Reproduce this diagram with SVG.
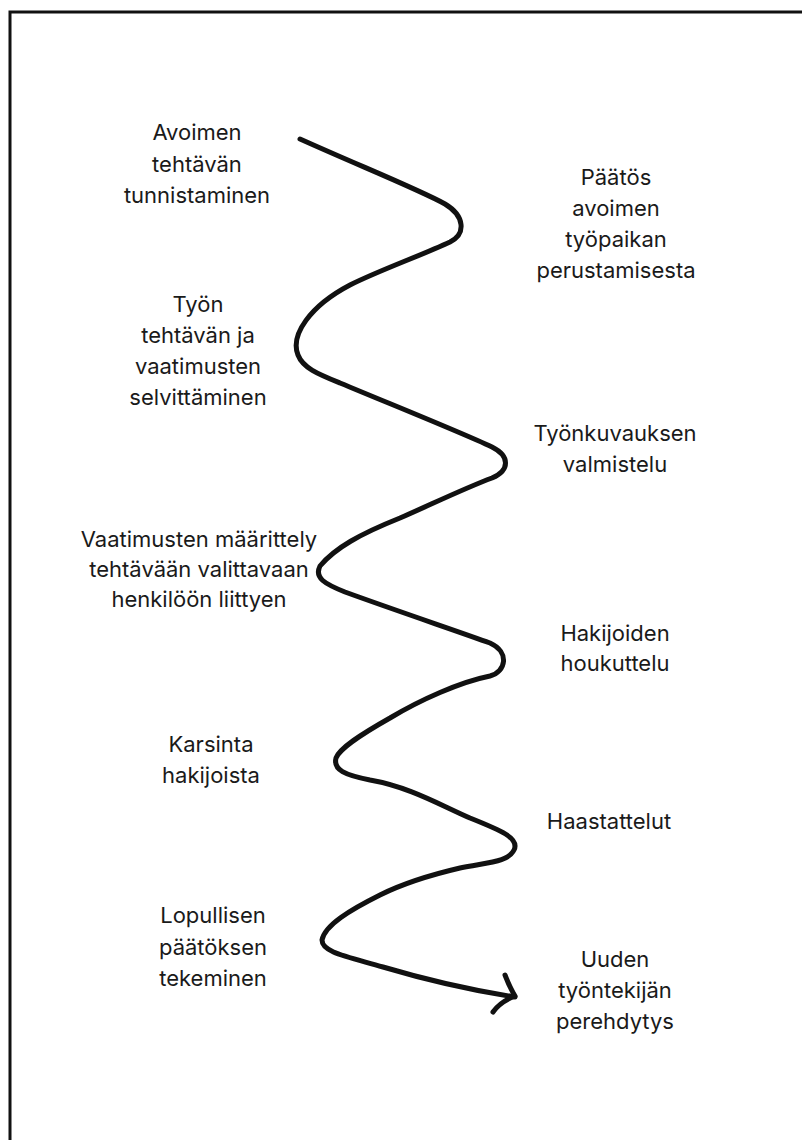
<svg xmlns="http://www.w3.org/2000/svg" width="802" height="1140" viewBox="0 0 802 1140">
<style>
.lbl{font-family:Inter,"Liberation Sans",Arial,sans-serif;font-size:22px;fill:#1a1a1a;text-anchor:middle}
.ln{fill:none;stroke:#111;stroke-width:5;stroke-linecap:round;stroke-linejoin:round}
</style>
<rect x="0" y="0" width="802" height="1140" fill="#fff"/>
<rect x="10" y="12" width="900" height="1200" fill="none" stroke="#111" stroke-width="3"/>
<g id="connectors">
<path class="ln" d="M300,139 C360,166 420,190 445,204 C465,216 466,234 450,242 C420,256 380,270 350,285 C310,306 290,335 298,355 C303,368 318,374 340,383 C400,408 460,432 492,447 C510,456 510,470 492,478 C465,488 430,505 400,518 C360,534 335,548 320,566 C314,578 325,584 345,592 C400,612 460,632 490,643 C510,652 506,672 490,676 C460,682 420,700 390,718 C360,735 340,748 336,758 C333,770 345,775 370,780 C410,787 440,805 470,818 C500,830 520,838 514,850 C508,862 490,862 460,868 C430,875 400,885 380,895 C350,910 325,925 322,940 C322,952 345,956 383,967 C420,978 470,990 515,997"/>
<path class="ln" d="M505,975 Q510,988 515,996 Q500,1002 493,1012"/>
</g>
<g id="n1"><text class="lbl" x="197" y="140">Avoimen</text><text class="lbl" x="197" y="172">tehtävän</text><text class="lbl" x="197" y="203">tunnistaminen</text></g>
<g id="n2"><text class="lbl" x="616" y="185">Päätös</text><text class="lbl" x="616" y="216">avoimen</text><text class="lbl" x="616" y="247">työpaikan</text><text class="lbl" x="616" y="278">perustamisesta</text></g>
<g id="n3"><text class="lbl" x="198" y="312">Työn</text><text class="lbl" x="198" y="343">tehtävän ja</text><text class="lbl" x="198" y="374">vaatimusten</text><text class="lbl" x="198" y="405">selvittäminen</text></g>
<g id="n4"><text class="lbl" x="615" y="441">Työnkuvauksen</text><text class="lbl" x="615" y="472">valmistelu</text></g>
<g id="n5"><text class="lbl" x="199" y="547">Vaatimusten määrittely</text><text class="lbl" x="199" y="577">tehtävään valittavaan</text><text class="lbl" x="199" y="607">henkilöön liittyen</text></g>
<g id="n6"><text class="lbl" x="615" y="641">Hakijoiden</text><text class="lbl" x="615" y="671">houkuttelu</text></g>
<g id="n7"><text class="lbl" x="211" y="752">Karsinta</text><text class="lbl" x="211" y="783">hakijoista</text></g>
<g id="n8"><text class="lbl" x="609" y="829">Haastattelut</text></g>
<g id="n9"><text class="lbl" x="213" y="923">Lopullisen</text><text class="lbl" x="213" y="955">päätöksen</text><text class="lbl" x="213" y="986">tekeminen</text></g>
<g id="n10"><text class="lbl" x="615" y="967">Uuden</text><text class="lbl" x="615" y="998">työntekijän</text><text class="lbl" x="615" y="1029">perehdytys</text></g>
</svg>
